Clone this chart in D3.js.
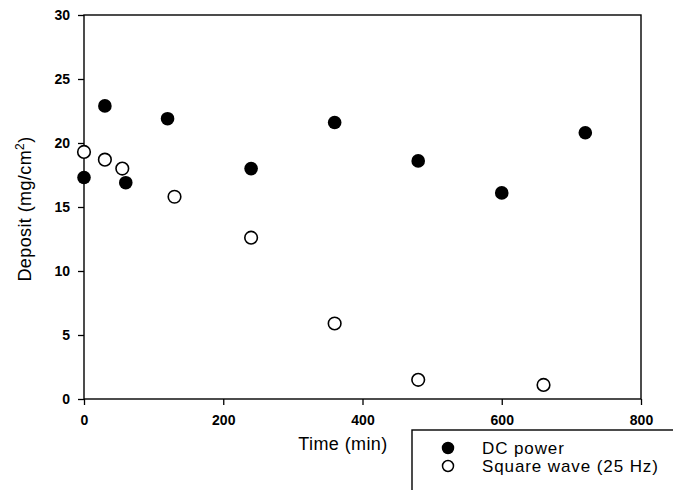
<!DOCTYPE html>
<html>
<head>
<meta charset="utf-8">
<script src="https://cdn.jsdelivr.net/npm/d3@7.9.0/dist/d3.min.js"></script>
<style>
  body { margin: 0; background: #fff; }
  svg { display: block; font-family: "Liberation Sans", Arial, sans-serif; }
</style>
</head>
<body>
<svg id="chart" width="673" height="490"></svg>
<script>
// data
const dcTime = [0, 30, 60, 120, 240, 360, 480, 600, 720];
const dcDeposit = [17.3, 22.9, 16.9, 21.9, 18.0, 21.6, 18.6, 16.1, 20.8];

const sqTime = [0, 30, 55, 130, 240, 360, 480, 660];
const sqDeposit = [19.3, 18.7, 18.0, 15.8, 12.6, 5.9, 1.5, 1.1];

const xTicks = [0, 200, 400, 600, 800];
const yTicks = [0, 5, 10, 15, 20, 25, 30];

const seriesNames = ['DC power', 'Square wave (25 Hz)'];

const svg = d3.select('#chart');

// plot area
const plotLeft = 84, plotRight = 641, plotTop = 15, plotBottom = 399;

const x = d3.scaleLinear().domain([0, 800]).range([plotLeft, plotRight]);
const y = d3.scaleLinear().domain([0, 30]).range([plotBottom, plotTop]);

// axes
const xAxis = svg.append('g')
  .attr('transform', `translate(0,${plotBottom})`)
  .call(d3.axisBottom(x).tickValues(xTicks).tickSize(6).tickSizeOuter(0).tickPadding(10));

const yAxis = svg.append('g')
  .attr('transform', `translate(${plotLeft},0)`)
  .call(d3.axisLeft(y).tickValues(yTicks).tickSize(6).tickSizeOuter(0).tickPadding(8));

[xAxis, yAxis].forEach((g) => {
  g.select('.domain').remove();
  g.selectAll('line').attr('stroke', '#000').attr('stroke-width', 1.3);
  g.selectAll('text')
    .attr('fill', '#000')
    .style('font-size', '14px')
    .style('font-weight', 'bold')
    .style('font-family', '"Liberation Sans", Arial, sans-serif');
});

// frame
svg.append('rect')
  .attr('x', plotLeft)
  .attr('y', plotTop)
  .attr('width', plotRight - plotLeft)
  .attr('height', plotBottom - plotTop)
  .attr('fill', 'none')
  .attr('stroke', '#000')
  .attr('stroke-width', 1.4);

// axis titles
svg.append('text')
  .attr('x', 343)
  .attr('y', 450)
  .attr('text-anchor', 'middle')
  .style('font-size', '18px')
  .style('letter-spacing', '0.4px')
  .text('Time (min)');

const yTitle = svg.append('text')
  .attr('transform', 'translate(31,209) rotate(-90)')
  .attr('text-anchor', 'middle')
  .style('font-size', '18px')
  .style('letter-spacing', '0.4px');
yTitle.append('tspan').text('Deposit (mg/cm');
yTitle.append('tspan').attr('dy', -7).style('font-size', '12px').text('2');
yTitle.append('tspan').attr('dy', 7).text(')');

// points
const r = 6.3;

svg.append('g')
  .selectAll('circle')
  .data(sqTime.map((t, i) => ({ t, v: sqDeposit[i] })))
  .join('circle')
  .attr('cx', (d) => x(d.t))
  .attr('cy', (d) => y(d.v))
  .attr('r', r)
  .attr('fill', '#fff')
  .attr('stroke', '#000')
  .attr('stroke-width', 1.6);

svg.append('g')
  .selectAll('circle')
  .data(dcTime.map((t, i) => ({ t, v: dcDeposit[i] })))
  .join('circle')
  .attr('cx', (d) => x(d.t))
  .attr('cy', (d) => y(d.v))
  .attr('r', r + 0.5)
  .attr('fill', '#000');

// legend box
const legend = svg.append('g');
legend.append('rect')
  .attr('x', 412)
  .attr('y', 430)
  .attr('width', 300)
  .attr('height', 100)
  .attr('fill', '#fff')
  .attr('stroke', '#000')
  .attr('stroke-width', 1.4);

seriesNames.forEach((name, i) => {
  const cy = 448 + i * 18;
  legend.append('circle')
    .attr('cx', 448)
    .attr('cy', cy)
    .attr('r', 5.5)
    .attr('fill', i === 0 ? '#000' : '#fff')
    .attr('stroke', '#000')
    .attr('stroke-width', 1.5);
  legend.append('text')
    .attr('x', 482)
    .attr('y', cy + 6)
    .style('font-size', '17px')
    .style('letter-spacing', '0.9px')
    .text(name);
});
</script>
</body>
</html>
